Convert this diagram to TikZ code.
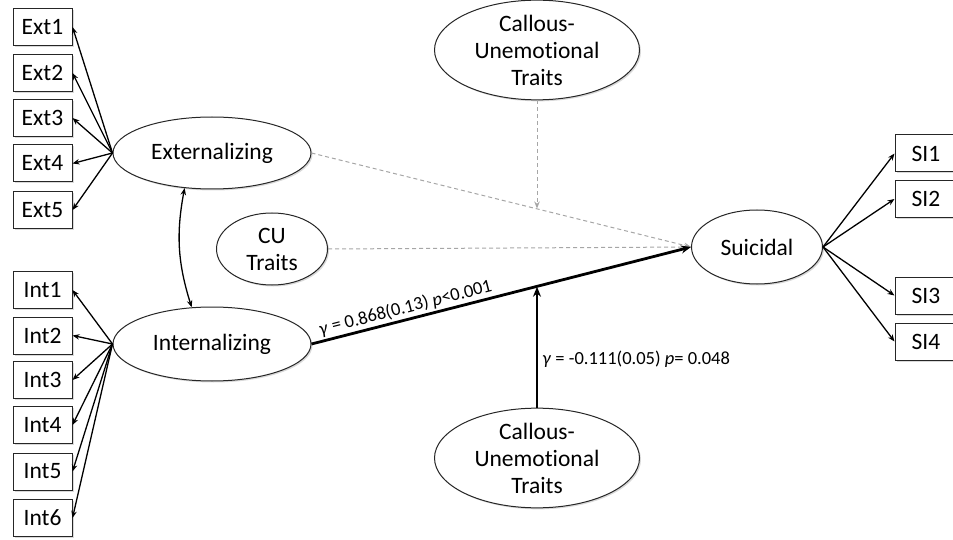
\documentclass[tikz,border=0pt]{standalone}
\usepackage{fontspec}
\setmainfont[Ligatures=NoCommon]{Carlito}
\usetikzlibrary{shapes.geometric,arrows.meta,shadows,calc}
\begin{document}
\begin{tikzpicture}[x=1pt,y=-1pt,
  font=\fontsize{23.5}{27}\selectfont,
  shad/.style={drop shadow={shadow xshift=1.5pt,shadow yshift=-1.5pt,opacity=0.3}},
  obs/.style={draw=black!85, line width=1pt, fill=white, minimum width=59pt,
    minimum height=37pt, inner sep=0pt, shad},
  lat/.style={ellipse, draw=black!85, line width=1pt, fill=white, inner sep=0pt,
    align=center, shad},
  load/.style={-{Stealth[length=7pt,width=5.5pt]}, line width=1.3pt},
  dpath/.style={-{Stealth[length=7pt,width=5.5pt]}, dashed, dash pattern=on 4pt off 3pt,
    line width=1pt, draw=black!35},
  thick path/.style={-{Stealth[length=10pt,width=8pt]}, line width=2.8pt},
  lbl/.style={font=\fontsize{18.5}{21}\selectfont, inner sep=2pt}
]
\useasboundingbox (0,0) rectangle (953,540);
\clip (0,0) rectangle (953,540);

% observed indicators
\node[obs] (e1) at (42.5,27) {Ext1};
\node[obs] (e2) at (42.5,73) {Ext2};
\node[obs] (e3) at (42.5,118) {Ext3};
\node[obs] (e4) at (42.5,163.5) {Ext4};
\node[obs] (e5) at (42.5,210) {Ext5};

\node[obs] (i1) at (42.5,290) {Int1};
\node[obs] (i2) at (42.5,335.5) {Int2};
\node[obs] (i3) at (42.5,380) {Int3};
\node[obs] (i4) at (42.5,425) {Int4};
\node[obs] (i5) at (42.5,471.5) {Int5};
\node[obs] (i6) at (42.5,518) {Int6};

\node[obs, minimum width=62pt] (s1) at (926,153.5) {SI1};
\node[obs, minimum width=62pt] (s2) at (926,199) {SI2};
\node[obs, minimum width=62pt] (s3) at (926,295.5) {SI3};
\node[obs, minimum width=62pt] (s4) at (926,341.5) {SI4};

% latent variables
\node[lat, minimum width=198pt, minimum height=72pt] (ext) at (212,153) {Externalizing};
\node[lat, minimum width=198pt, minimum height=74pt] (int) at (212,344) {Internalizing};
\node[lat, minimum width=111pt, minimum height=72pt] (cu) at (272,249) {CU\\Traits};
\node[lat, minimum width=205pt, minimum height=83pt] (cut) at (537,50) {Callous-\\Unemotional\\Traits};
\node[lat, minimum width=205pt, minimum height=81pt] (cub) at (537,458) {Callous-\\Unemotional\\Traits};
\node[lat, minimum width=131pt, minimum height=74pt] (sui) at (757,247) {Suicidal};

% loadings
\foreach \b in {e1,e2,e3,e4,e5} \draw[load] (ext.west) -- (\b.east);
\foreach \b in {i1,i2,i3,i4,i5,i6} \draw[load] (int.west) -- (\b.east);
\foreach \b in {s1,s2,s3,s4} \draw[load] (sui.east) -- (\b.west);

% correlation
\draw[{Stealth[length=7pt,width=5.5pt]}-{Stealth[length=7pt,width=5.5pt]}, line width=1.3pt]
  (ext.232) to[bend right=14] (int.119);

% structural paths
\coordinate (m1) at ($(ext.east)!0.59!(sui.west)$);
\coordinate (m2) at ($(int.east)!0.59!(sui.west)$);
\draw[dpath] (ext.east) -- (sui.west);
\draw[dpath] (cu.east) -- (sui.west);
\draw[dpath] (cut.south) -- (cut.south |- m1);
\draw[thick path] (int.east) -- node[lbl, pos=0.255, sloped, above]
  {\textit{γ} = 0.868(0.13) \textit{p}<0.001} (sui.west);
\draw[thick path] (cub.north) -- node[lbl, pos=0.4, right, xshift=2pt]
  {\textit{γ} = -0.111(0.05) \textit{p}= 0.048} (cub.north |- m2);
\end{tikzpicture}
\end{document}
